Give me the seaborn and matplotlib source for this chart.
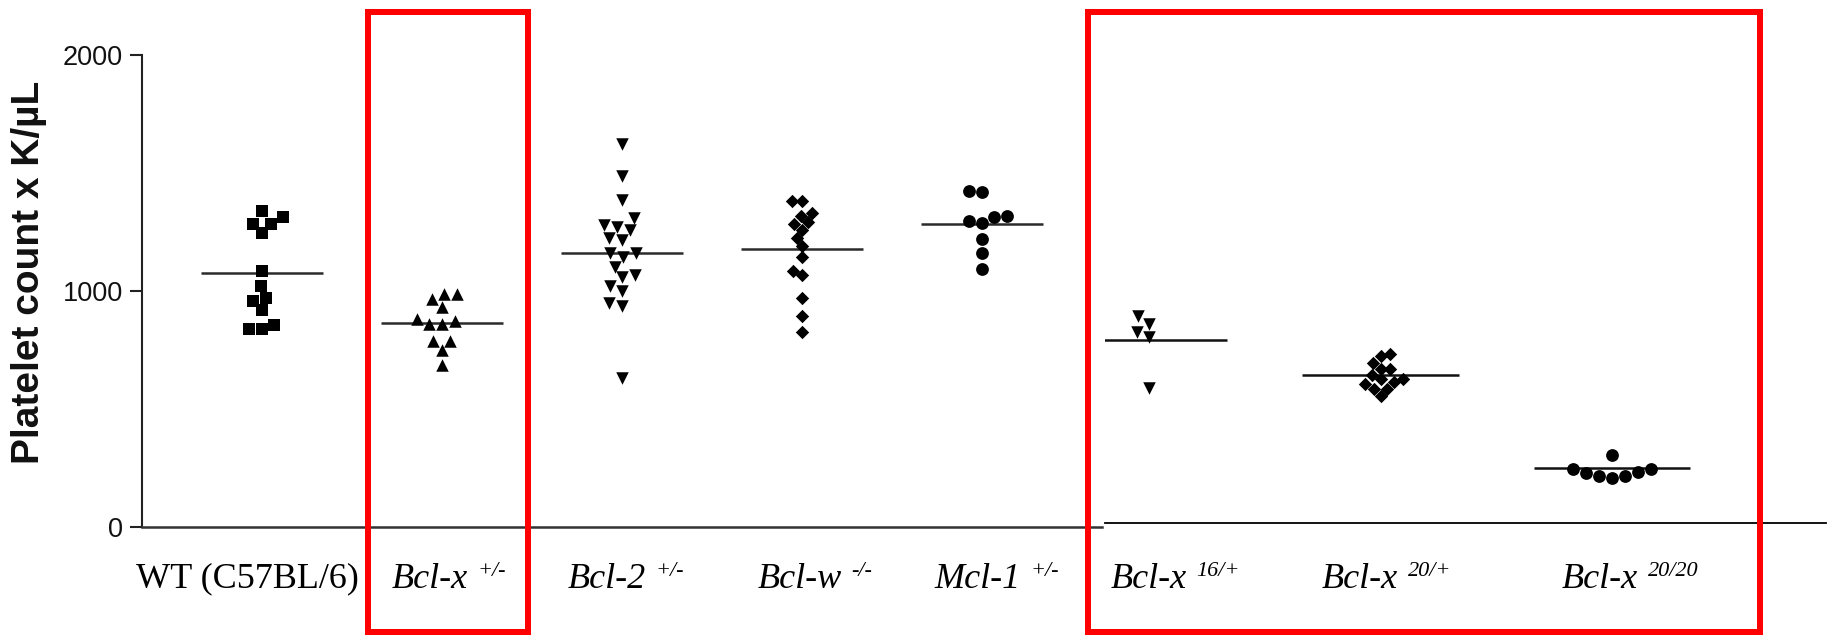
import matplotlib
matplotlib.use("Agg")
import numpy as np
import pandas as pd
import matplotlib.pyplot as plt
import seaborn as sns
from matplotlib.patches import Rectangle
from matplotlib.offsetbox import TextArea, HPacker, AnnotationBbox

# ---------------- data ----------------
left_groups = ["WT (C57BL/6)", "Bcl-x +/-", "Bcl-2 +/-", "Bcl-w -/-", "Mcl-1 +/-"]
right_groups = ["Bcl-x 16/+", "Bcl-x 20/+", "Bcl-x 20/20"]
label_main = ["WT (C57BL/6)", "Bcl-x", "Bcl-2", "Bcl-w", "Mcl-1", "Bcl-x", "Bcl-x", "Bcl-x"]
label_sup = ["", "+/-", "+/-", "-/-", "+/-", "16/+", "20/+", "20/20"]

wt_c57 = [1341, 1313, 1285, 1285, 1248, 1087, 1022, 973, 959, 921, 857, 839, 839]
bclx_het = [988, 966, 988, 932, 873, 859, 859, 884, 791, 788, 749, 689]
bcl2_het = [1625, 1487, 1385, 1308, 1270, 1279, 1258, 1227, 1216, 1160,
            1145, 1160, 1103, 1058, 1068, 1022, 1001, 950, 939, 631]
bclw_ko = [1382, 1380, 1330, 1320, 1293, 1283, 1261, 1226, 1192, 1143,
           1087, 1069, 973, 896, 826]
mcl1_het = [1425, 1420, 1312, 1287, 1296, 1317, 1219, 1160, 1094]
bclx_16 = [877, 846, 811, 787, 571]
bclx_20 = [716, 708, 677, 652, 652, 628, 609, 599, 609, 588, 570, 570, 539]
bclx_2020 = [289, 228, 218, 200, 190, 200, 211, 228]

left_means = [1076, 864, 1163, 1179, 1283]
right_means = [776, 628, 233]
y_ticks = [0, 1000, 2000]
y_label = "Platelet count x K/\u00b5L"

# ---------------- styling / layout ----------------
left_markers = ["s", "^", "v", "D", "o"]
left_sizes = [9.0, 9.0, 9.0, 6.8, 9.2]
right_markers = ["v", "D", "o"]
right_sizes = [9.0, 6.8, 9.2]
label_nudge_px = [-15, 7, 4, 13, 15, 26, 6, 18]

sns.set_theme(style="ticks")
plt.rcParams["font.family"] = ["Liberation Sans", "DejaVu Sans"]

W, H = 1829, 637
PT = 0.72  # points per pixel at dpi 100


def ax_rect(x0, x1, ytop, ybot):
    return [x0 / W, 1 - ybot / H, (x1 - x0) / W, (ybot - ytop) / H]


fig = plt.figure(figsize=(W / 100, H / 100), dpi=100)
fig.patch.set_facecolor("white")
L_BOT, R_BOT = 527.3, 523.3
ax_l = fig.add_axes(ax_rect(142, 1102, 55, L_BOT))
ax_r = fig.add_axes(ax_rect(1105, 1826, 51, R_BOT))

df_l = pd.concat([pd.DataFrame({"group": g, "value": v}) for g, v in
                  zip(left_groups, [wt_c57, bclx_het, bcl2_het, bclw_ko, mcl1_het])])
df_r = pd.concat([pd.DataFrame({"group": g, "value": v}) for g, v in
                  zip(right_groups, [bclx_16, bclx_20, bclx_2020])])

for ax, df, groups, markers, sizes in [(ax_l, df_l, left_groups, left_markers, left_sizes),
                                        (ax_r, df_r, right_groups, right_markers, right_sizes)]:
    for g, m, s in zip(groups, markers, sizes):
        sns.swarmplot(data=df[df["group"] == g], x="group", y="value", order=groups,
                      marker=m, size=s, color="black", linewidth=0, ax=ax,
                      warn_thresh=1.0, zorder=3)

pos_l = np.arange(len(left_groups))
pos_r = np.arange(len(right_groups))
half = 0.3375
ax_l.hlines(left_means, pos_l - half, pos_l + half, colors="#2b2b2b", lw=1.8, zorder=2)
ax_r.hlines(right_means, pos_r - half, pos_r + half, colors="#111111", lw=1.8, zorder=2)

ax_l.set_xlim(-2 / 3, 14 / 3)
ax_r.set_xlim(-44 / 231.5, 677 / 231.5)
for ax in (ax_l, ax_r):
    ax.set_ylim(0, 2000)
    ax.set_xlabel("")
    ax.set_ylabel("")
    ax.tick_params(axis="x", length=0, labelbottom=False)
    ax.set_facecolor("none")
    for sp in ("top", "right"):
        ax.spines[sp].set_visible(False)

ax_l.spines["left"].set_linewidth(1.5)
ax_l.spines["left"].set_color("#222222")
ax_l.spines["bottom"].set_linewidth(1.8)
ax_l.spines["bottom"].set_color("#333333")
ax_l.set_yticks(y_ticks)
ax_l.set_yticklabels([str(t) for t in y_ticks])
ax_l.tick_params(axis="y", length=9, width=1.5, pad=4.8, labelsize=19.5,
                 color="#222222", labelcolor="#111111")
ax_l.set_ylabel(y_label, fontsize=28, fontweight="bold", color="#111111", va="center")
ax_l.yaxis.set_label_coords((29 - 142) / 960, (L_BOT - 272) / (L_BOT - 55))

ax_r.spines["left"].set_visible(False)
ax_r.spines["bottom"].set_linewidth(1.3)
ax_r.spines["bottom"].set_color("black")
ax_r.tick_params(axis="y", left=False, labelleft=False)


def put_label(ax, i, main, sup, axis_bot_px, nudge_px):
    children = [TextArea(main, textprops=dict(family="Liberation Serif",
                                              style="italic" if sup else "normal",
                                              size=26, color="black"))]
    if sup:
        children.append(TextArea(sup, textprops=dict(family="Liberation Serif",
                                                     style="italic", size=16,
                                                     color="black")))
    box = HPacker(children=children, align="top", pad=0, sep=7)
    ab = AnnotationBbox(box, (i, 0), xycoords=("data", "axes fraction"),
                        xybox=(nudge_px * PT, -(562.5 - axis_bot_px) * PT),
                        boxcoords="offset points", box_alignment=(0.5, 1.0),
                        frameon=False, pad=0, annotation_clip=False)
    ax.add_artist(ab)


for i in range(len(left_groups)):
    put_label(ax_l, i, label_main[i], label_sup[i], L_BOT, label_nudge_px[i])
for j in range(len(right_groups)):
    k = len(left_groups) + j
    put_label(ax_r, j, label_main[k], label_sup[k], R_BOT, label_nudge_px[k])

# red highlight boxes (figure pixel coordinates, top-origin)
for x0, x1 in [(368.3, 528.0), (1088.3, 1760.0)]:
    y_top, y_bot = 11.5, 631.7
    fig.add_artist(Rectangle((x0 / W, 1 - y_bot / H), (x1 - x0) / W, (y_bot - y_top) / H,
                             transform=fig.transFigure, fill=False, edgecolor="#ff0000",
                             linewidth=6 * PT, zorder=10))

fig.savefig("out.png", dpi=100, facecolor="white")
